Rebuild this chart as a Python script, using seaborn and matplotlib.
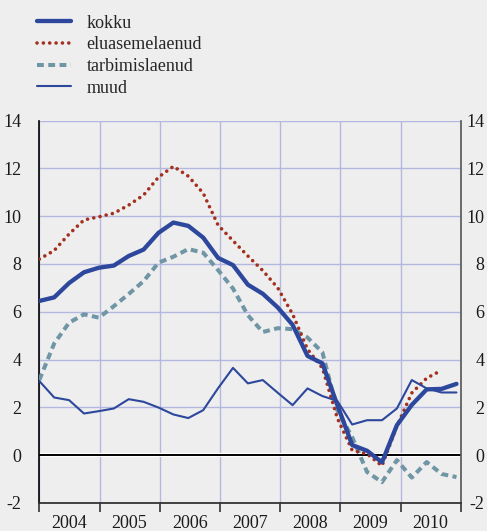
import numpy as np
import pandas as pd
import matplotlib
matplotlib.use("Agg")
import matplotlib.pyplot as plt
import seaborn as sns
from matplotlib.transforms import ScaledTranslation, blended_transform_factory
from matplotlib.lines import Line2D

# ---- data (quarterly, %) ----
series_names = ["kokku", "eluasemelaenud", "tarbimislaenud", "muud"]
years = ["2004", "2005", "2006", "2007", "2008", "2009", "2010"]
kokku = [6.45, 6.6, 7.2, 7.65, 7.84, 7.93, 8.33, 8.6, 9.3, 9.73, 9.59, 9.1, 8.25, 7.95,
         7.13, 6.75, 6.18, 5.45, 4.15, 3.84, 2.1, 0.42, 0.18, -0.3, 1.25, 2.1, 2.75, 2.77, 2.98]
eluasemelaenud = [8.2, 8.56, 9.25, 9.84, 9.97, 10.12, 10.46, 10.88, 11.63, 12.08, 11.67, 10.96,
                  9.62, 8.97, 8.33, 7.72, 7.0, 5.9, 4.43, 3.64, 1.55, 0.2, 0.05, -0.45, 1.21,
                  2.6, 3.22, 3.55, np.nan]
tarbimislaenud = [3.14, 4.67, 5.54, 5.89, 5.75, 6.23, 6.74, 7.28, 8.05, 8.3, 8.62, 8.47, 7.74,
                  6.97, 5.85, 5.15, 5.31, 5.27, 4.92, 4.3, 1.88, 0.75, -0.71, -1.13, -0.21,
                  -0.94, -0.29, -0.79, -0.92]
muud = [3.1, 2.41, 2.3, 1.74, 1.84, 1.95, 2.34, 2.23, 1.99, 1.7, 1.55, 1.88, 2.8, 3.65, 3.0,
        3.14, 2.61, 2.09, 2.79, 2.47, 2.27, 1.28, 1.46, 1.46, 1.95, 3.14, 2.79, 2.62, 2.62]
y_ticks = [-2, 0, 2, 4, 6, 8, 10, 12, 14]

n = len(kokku)
t = 2004 + np.arange(n) * 0.2475   # quarter positions as drawn
df = pd.DataFrame({"t": t, "kokku": kokku, "eluasemelaenud": eluasemelaenud,
                   "tarbimislaenud": tarbimislaenud, "muud": muud})

BG = "#eeeeee"
BLUE = "#2c479c"
RED = "#a3301f"
TEAL = "#7096a6"
GRID = "#b4b7df"
TXT = "#1a1a1a"

sns.set_style("white")
plt.rcParams["font.family"] = ["Liberation Serif", "DejaVu Serif"]
plt.rcParams["font.size"] = 13

fig = plt.figure(figsize=(4.87, 5.31), dpi=100, facecolor=BG)
W, H = 487, 531
ax = fig.add_axes([39.3 / W, 1 - 502.9 / H, (460.7 - 39.3) / W, (502.9 - 120.5) / H])
ax.set_facecolor(BG)

styles = {
    "kokku": dict(color=BLUE, lw=3.1, ls="-", zorder=5),
    "eluasemelaenud": dict(color=RED, lw=2.6, ls=(0, (0.01, 1.75)), zorder=4,
                           dash_capstyle="round"),
    "tarbimislaenud": dict(color=TEAL, lw=2.9, ls=(0, (1.7, 1.1)), zorder=3),
    "muud": dict(color=BLUE, lw=1.5, ls="-", zorder=6),
}
for name in ["tarbimislaenud", "eluasemelaenud", "kokku", "muud"]:
    st = dict(styles[name])
    z = st.pop("zorder")
    sns.lineplot(data=df, x="t", y=name, ax=ax, legend=False, **st)
    ax.lines[-1].set_zorder(z)

ax.set_xlim(2004, 2011)
ax.set_ylim(-2, 14)
ax.set_xlabel("")
ax.set_ylabel("")

# grid & ticks
ax.set_yticks(y_ticks)
ax.set_yticklabels([str(v) for v in y_ticks])
ax.set_xticks(np.arange(2004, 2012))
ax.set_xticklabels([])
ax.set_xticks(np.arange(2004, 2011) + 0.5, minor=True)
ax.set_xticklabels(years, minor=True)
ax.grid(True, which="major", color=GRID, lw=1.0, zorder=0)
ax.set_axisbelow(True)

ax.tick_params(axis="y", which="both", left=False, right=False, labelleft=True,
               labelright=False, pad=9.3, labelsize=13, colors=TXT)
ax.tick_params(axis="x", which="major", bottom=True, direction="out", length=6.5,
               width=1.2, color="#333333", labelbottom=False)
ax.tick_params(axis="x", which="minor", bottom=False, length=0, pad=9, labelsize=13,
               labelcolor=TXT)

# right-hand labels, right-aligned just inside the figure edge
tr = blended_transform_factory(ax.transAxes, ax.transData) + \
    ScaledTranslation(23.5 / 100, 0, fig.dpi_scale_trans)
for v in y_ticks:
    ax.text(1, v, str(v), transform=tr, ha="right", va="center_baseline",
            fontsize=13, color=TXT, clip_on=False)

ax.spines["top"].set_visible(False)
ax.spines["left"].set_color("black")
ax.spines["left"].set_linewidth(1.2)
ax.spines["right"].set_color("#555555")
ax.spines["right"].set_linewidth(1.2)
ax.spines["bottom"].set_color("#333333")
ax.spines["bottom"].set_linewidth(1.3)

ax.axhline(0, color="white", lw=3.0, zorder=1)
ax.axhline(0, color="black", lw=1.4, zorder=2)

# legend
leg_handles = []
for name in series_names:
    st = dict(styles[name])
    st.pop("zorder")
    leg_handles.append(Line2D([], [], **st))
fig.legend(leg_handles, series_names, loc="upper left",
           bbox_to_anchor=(36.7 / W, 1 - 14.5 / H), frameon=False, handlelength=1.9,
           handletextpad=0.85, labelspacing=0.26, borderpad=0, borderaxespad=0,
           prop={"size": 13})

fig.savefig("out.png", dpi=100, facecolor=BG)
